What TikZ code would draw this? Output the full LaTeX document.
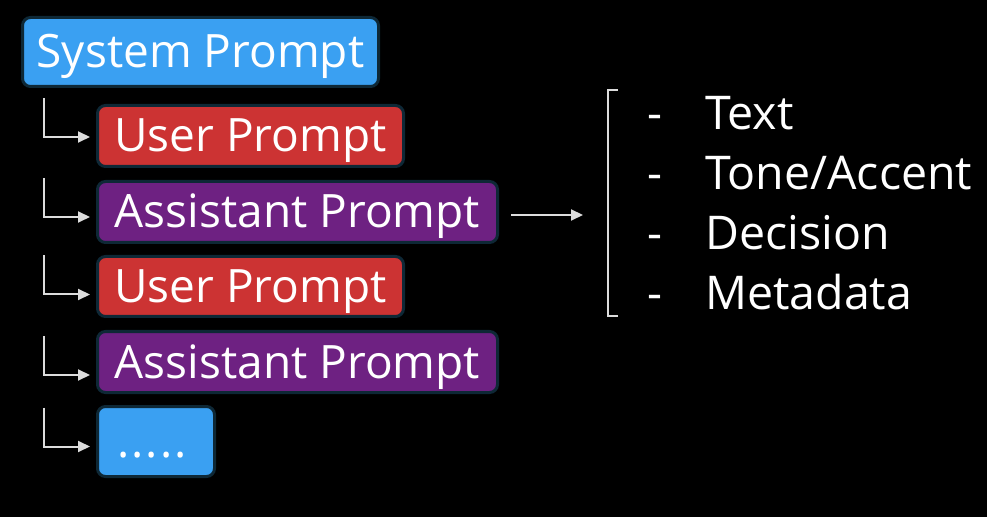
\documentclass[tikz,border=0pt]{standalone}
\usepackage{fontspec}
\setmainfont{Open Sans}
\usepackage{tikz}
\usetikzlibrary{arrows.meta}

\definecolor{sysblue}{HTML}{3AA0F2}
\definecolor{userred}{HTML}{CC3333}
\definecolor{asstpurple}{HTML}{6E2182}
\definecolor{boxedge}{HTML}{0E2836}
\definecolor{linkgray}{HTML}{DCDCDC}

\begin{document}
\begin{tikzpicture}[x=1pt,y=1pt,
	prompt/.style={draw=boxedge,line width=3pt,rounded corners=8pt,text=white,inner sep=0pt,font=\fontsize{46}{52}\selectfont,text height=32pt,text depth=0pt},
	link/.style={linkgray,line width=2pt,-{Triangle[length=12pt,width=11pt]}},
	item/.style={text=white,inner sep=0pt,font=\fontsize{46.5}{56}\selectfont}]
	\fill[black] (0,0) rectangle (987,517);
	\useasboundingbox (0,0) rectangle (987,517);
	% the prompt chain
	\node[prompt,fill=sysblue,minimum width=356pt,minimum height=69pt] (sys) at (200.5,465) {System Prompt};
	\node[prompt,fill=userred,minimum width=306pt,minimum height=61pt] (user1) at (250.5,381) {User Prompt};
	\node[prompt,fill=asstpurple,minimum width=400pt,minimum height=61pt] (asst1) at (297.5,305) {Assistant Prompt};
	\node[prompt,fill=userred,minimum width=306pt,minimum height=60pt] (user2) at (250.5,230.5) {User Prompt};
	\node[prompt,fill=asstpurple,minimum width=400pt,minimum height=61pt] (asst2) at (297.5,155) {Assistant Prompt};
	\node[prompt,fill=sysblue,minimum width=117pt,minimum height=70pt] (more) at (156,75.5) {\hspace*{-8pt}.\kern2pt.\kern2pt.\kern2pt.\kern2pt.};
	\foreach \b/\d in {user1/1,asst1/5,user2/8,asst2/13,more/5} \draw[link] ([xshift=-52pt,yshift=39pt-\d pt]\b.west) |- ([xshift=-6pt,yshift=-\d pt]\b.west);
	% what an assistant turn holds
	\coordinate (into) at (583,302);
	\draw[link] ([xshift=12pt,yshift=-3pt]asst1.east) -- (into);
	\draw[linkgray,line width=2pt] (618,427) -- (608,427) -- (608,201) -- (618,201);
	\foreach \t [count=\i] in {Text,{Tone/Accent},Decision,Metadata} {
		\node[item,anchor=base] (dash\i) at (655,447-60*\i) {-};
		\node[item,anchor=base west] (field\i) at (705,447-60*\i) {\t};
	}
\end{tikzpicture}
\end{document}
